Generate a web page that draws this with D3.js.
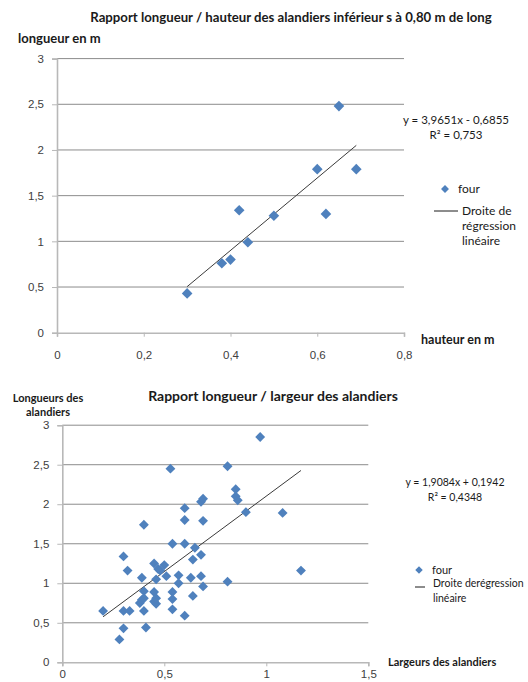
<!DOCTYPE html>
<html>
<head>
<meta charset="utf-8">
<script src="https://cdn.jsdelivr.net/npm/d3@7"></script>
<style>
  body { margin: 0; background: #fff; }
  svg { display: block; font-family: Lato, "Open Sans", sans-serif; }
  .tick text { fill: #404040; font-size: 11.5px; }
</style>
</head>
<body>
<svg id="chart" width="528" height="682"></svg>
<script>
// chart 1 : longueur / hauteur (alandiers < 0,80 m)
const hauteur = [0.30, 0.38, 0.40, 0.42, 0.44, 0.50, 0.60, 0.62, 0.65, 0.69];
const longueur1 = [0.43, 0.76, 0.80, 1.34, 0.99, 1.28, 1.79, 1.30, 2.48, 1.79];
const reg1 = { a: 3.9651, b: -0.6855, label: "y = 3,9651x - 0,6855", r2: "R² = 0,753" };
const xTicks1 = [0, 0.2, 0.4, 0.6, 0.8];
const yTicks1 = [0, 0.5, 1, 1.5, 2, 2.5, 3];

// chart 2 : longueur / largeur
const largeur = [0.20, 0.28, 0.30, 0.30, 0.30, 0.32, 0.33, 0.39, 0.38, 0.39,
                 0.40, 0.40, 0.40, 0.40, 0.41, 0.45, 0.45, 0.45, 0.46, 0.46,
                 0.46, 0.47, 0.48, 0.50, 0.51, 0.53, 0.54, 0.54, 0.54, 0.54,
                 0.57, 0.57, 0.60, 0.60, 0.60, 0.60, 0.65, 0.64, 0.63, 0.64,
                 0.68, 0.69, 0.69, 0.68, 0.68, 0.69, 0.81, 0.81, 0.85, 0.85,
                 0.86, 0.90, 1.08, 1.17, 0.97];
const longueur2 = [0.65, 0.29, 1.34, 0.65, 0.43, 1.16, 0.65, 1.07, 0.75, 0.79,
                   1.74, 0.90, 0.81, 0.65, 0.44, 1.25, 0.89, 0.77, 0.74, 0.81,
                   1.05, 1.18, 1.16, 1.23, 1.09, 2.45, 1.50, 0.89, 0.80, 0.67,
                   1.10, 1.00, 1.95, 1.80, 1.50, 0.59, 1.45, 1.30, 1.07, 0.84,
                   2.03, 2.07, 1.79, 1.36, 1.09, 0.96, 2.48, 1.02, 2.19, 2.10,
                   2.05, 1.90, 1.89, 1.16, 2.85];
const reg2 = { a: 1.9084, b: 0.1942, label: "y = 1,9084x + 0,1942", r2: "R² = 0,4348" };
const xTicks2 = [0, 0.5, 1, 1.5];
const yTicks2 = [0, 0.5, 1, 1.5, 2, 2.5, 3];

const svg = d3.select("#chart");
const fmt = d3.format("~g");
const frFormat = function(d) { return fmt(d).replace(".", ","); };
const blue = "#4f81bd";
const diamond = d3.symbol().type(d3.symbolDiamond2);

function draw_scatter(opt)
{
    let x = d3.scaleLinear().domain([0, opt.xTicks[opt.xTicks.length - 1]]).range([opt.left, opt.right]);
    let y = d3.scaleLinear().domain([0, 3]).range([opt.bottom, opt.top]);
    let g = svg.append("g");

    // gridlines
    g.append("g").selectAll("line")
        .data(opt.yTicks.slice(1))
        .enter().append("line")
        .attr("x1", opt.left).attr("x2", opt.right)
        .attr("y1", function (d) { return y(d); })
        .attr("y2", function (d) { return y(d); })
        .attr("stroke", "#8c8c8c")
        .attr("stroke-width", 1);

    // axes
    let yAxis = g.append("g")
        .attr("transform", "translate(" + opt.left + ",0)")
        .call(d3.axisLeft(y).tickValues(opt.yTicks).tickFormat(frFormat).tickSize(5).tickPadding(8));
    let xAxis = g.append("g")
        .attr("transform", "translate(0," + opt.bottom + ")")
        .call(d3.axisBottom(x).tickValues(opt.xTicks).tickFormat(frFormat).tickSize(4).tickPadding(opt.xPad));
    [yAxis, xAxis].forEach(function (a) {
        a.select(".domain").attr("stroke", "#b8b8b8").attr("stroke-width", 1.6);
        a.selectAll(".tick line").attr("stroke", "#b8b8b8");
        a.selectAll(".tick text").attr("font-family", null).attr("font-size", null);
    });

    // regression line
    let x0 = d3.min(opt.xs), x1 = d3.max(opt.xs);
    g.append("line")
        .attr("x1", x(x0)).attr("y1", y(opt.reg.a * x0 + opt.reg.b))
        .attr("x2", x(x1)).attr("y2", y(opt.reg.a * x1 + opt.reg.b))
        .attr("stroke", "#3a3a3a")
        .attr("stroke-width", 1);

    // points
    g.append("g").selectAll("path")
        .data(opt.xs.map(function (d, i) { return [d, opt.ys[i]]; }))
        .enter().append("path")
        .attr("d", diamond.size(opt.markerSize))
        .attr("transform", function (d) { return "translate(" + x(d[0]) + "," + y(d[1]) + ")"; })
        .attr("fill", blue);

    return g;
}

function add_text(g, x, y, str, size, weight, anchor)
{
    return g.append("text")
        .attr("x", x).attr("y", y)
        .attr("font-size", size)
        .attr("font-weight", weight || "normal")
        .attr("text-anchor", anchor || "start")
        .attr("fill", "#1a1a1a")
        .text(str);
}

// ---- chart 1
let g1 = draw_scatter({
    xs: hauteur, ys: longueur1, reg: reg1,
    xTicks: xTicks1, yTicks: yTicks1,
    left: 57, right: 404, top: 58.6, bottom: 332.7,
    markerSize: 72, xPad: 14
});
add_text(g1, 291, 22, "Rapport longueur / hauteur des alandiers inférieur s à 0,80 m de long", 13.2, "bold", "middle");
add_text(g1, 18, 43, "longueur en  m", 13, "bold");
add_text(g1, 421, 344, "hauteur en m", 12.5, "bold");
add_text(g1, 456, 124, reg1.label, 11.5, "normal", "middle");
add_text(g1, 456, 139, reg1.r2, 11.5, "normal", "middle");
g1.append("path").attr("d", diamond.size(40)).attr("transform", "translate(445,189)").attr("fill", blue);
add_text(g1, 458, 193, "four", 12);
g1.append("line").attr("x1", 434).attr("x2", 458).attr("y1", 211).attr("y2", 211).attr("stroke", "#1a1a1a");
add_text(g1, 462, 215, "Droite de", 12);
add_text(g1, 462, 230, "régression", 12);
add_text(g1, 462, 245, "linéaire", 12);

// ---- chart 2
let g2 = draw_scatter({
    xs: largeur, ys: longueur2, reg: reg2,
    xTicks: xTicks2, yTicks: yTicks2,
    left: 62.3, right: 368.3, top: 425.2, bottom: 662.3,
    markerSize: 62, xPad: 4
});
add_text(g2, 273, 401, "Rapport longueur / largeur des alandiers", 14, "bold", "middle");
add_text(g2, 48, 402, "Longueurs des", 11, "bold", "middle");
add_text(g2, 48, 416, "alandiers", 11, "bold", "middle");
add_text(g2, 388, 666, "Largeurs des alandiers", 11, "bold");
add_text(g2, 455, 486, reg2.label, 10.5, "normal", "middle");
add_text(g2, 455, 501, reg2.r2, 10.5, "normal", "middle");
g2.append("path").attr("d", diamond.size(36)).attr("transform", "translate(419,570)").attr("fill", blue);
add_text(g2, 432, 574, "four", 11);
g2.append("line").attr("x1", 415).attr("x2", 425).attr("y1", 587).attr("y2", 587).attr("stroke", "#1a1a1a");
add_text(g2, 433, 587, "Droite derégression", 10.5);
add_text(g2, 433, 602, "linéaire", 10.5);
</script>
</body>
</html>
